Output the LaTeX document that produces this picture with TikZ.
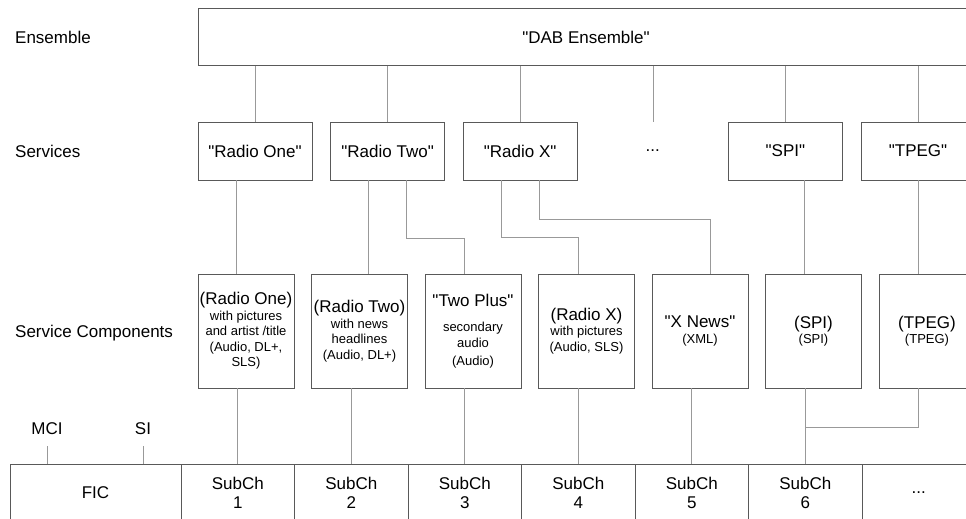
\documentclass[tikz,border=0pt]{standalone}
\usepackage{fontspec}
\setmainfont{Liberation Sans}[Ligatures=TeXOff]
\usepackage{tikz}
\newcommand{\letragrande}{\fontsize{17}{19}\selectfont}
\newcommand{\letrachica}{\fontsize{13}{15.5}\selectfont}
\usetikzlibrary{positioning}
\tikzstyle{caja} = [draw=black!65, line width=1pt, rectangle, inner sep=0pt, outer sep=0pt, align=center, font=\letragrande]
\tikzstyle{conjunto} = [caja, minimum width=776pt, minimum height=57pt]
\tikzstyle{servicio} = [caja, minimum width=114pt, minimum height=58pt]
\tikzstyle{componente} = [caja, minimum width=96pt, minimum height=114pt, font=\letrachica]
\tikzstyle{subcanal} = [caja, minimum width=113.5pt, minimum height=58pt]
\tikzstyle{nivel} = [inner sep=0pt, font=\letragrande]
\tikzstyle{enlace} = [draw=black!40, line width=0.6pt]

\begin{document}
\begin{tikzpicture}[x=1pt, y=-1pt]
	\useasboundingbox (0,0) rectangle (966,519);
	\clip (0,0) rectangle (966,519);
	\node[nivel, anchor=west] (lens) at (15,37.5) {Ensemble};
	\node[nivel, anchor=west] (lsrv) at (15,151) {Services};
	\node[nivel, anchor=west] (lcmp) at (15,333) {Service Components};
	\node[conjunto] (ens) at (586,37.5) {"DAB Ensemble"};
	\node[servicio] (srv1) at (255,151) {"Radio One"};
	\node[servicio, right=18.6pt of srv1] (srv2) {"Radio Two"};
	\node[servicio, right=18.6pt of srv2] (srvx) {"Radio X"};
	\node[servicio, draw=none, right=18.6pt of srvx] (mas) {...};
	\node[servicio, right=18.6pt of mas] (spi) {"SPI"};
	\node[servicio, right=18.6pt of spi] (tpeg) {"TPEG"};
	\node[componente] (c1) at (246,331) {{\letragrande (Radio One)}\\ with pictures\\ and artist /title\\ (Audio, DL+,\\ SLS)};
	\node[componente, right=17.5pt of c1] (c2) {{\letragrande (Radio Two)}\\ with news\\ headlines\\ (Audio, DL+)};
	\node[componente, right=17.5pt of c2] (c3) {{\letragrande "Two Plus"}\\[10pt] secondary\\ audio\\[3pt] (Audio)};
	\node[componente, right=17.5pt of c3] (c4) {{\letragrande (Radio X)}\\ with pictures\\ (Audio, SLS)};
	\node[componente, right=17.5pt of c4] (c5) {{\letragrande "X News"}\\ (XML)};
	\node[componente, right=17.5pt of c5] (c6) {{\letragrande (SPI)}\\ (SPI)};
	\node[componente, right=17.5pt of c6] (c7) {{\letragrande (TPEG)}\\ (TPEG)};
	\node[subcanal, minimum width=171pt] (fic) at (95.5,493) {FIC};
	\node[subcanal, right=0pt of fic] (sub1) {SubCh\\ 1};
	\node[subcanal, right=0pt of sub1] (sub2) {SubCh\\ 2};
	\node[subcanal, right=0pt of sub2] (sub3) {SubCh\\ 3};
	\node[subcanal, right=0pt of sub3] (sub4) {SubCh\\ 4};
	\node[subcanal, right=0pt of sub4] (sub5) {SubCh\\ 5};
	\node[subcanal, right=0pt of sub5] (sub6) {SubCh\\ 6};
	\node[subcanal, right=0pt of sub6] (sub7) {...};
	\node[nivel, anchor=base] (mci) at (47,434) {MCI};
	\node[nivel, anchor=base] (si) at (143,434) {SI};

	\draw[enlace] (ens.south -| srv1.north) -- (srv1.north);
	\draw[enlace] (ens.south -| srv2.north) -- (srv2.north);
	\draw[enlace] (ens.south -| srvx.north) -- (srvx.north);
	\draw[enlace] (ens.south -| mas.north) -- (mas.north);
	\draw[enlace] (ens.south -| spi.north) -- (spi.north);
	\draw[enlace] (ens.south -| tpeg.north) -- (tpeg.north);

	\coordinate (a1) at ([xshift=38pt]srv1.south west);
	\coordinate (a2) at ([xshift=38pt]srv2.south west);
	\coordinate (b2) at ([xshift=76pt]srv2.south west);
	\coordinate (ax) at ([xshift=38pt]srvx.south west);
	\coordinate (bx) at ([xshift=76pt]srvx.south west);
	\coordinate (bs) at ([xshift=76pt]spi.south west);
	\draw[enlace] (a1) -- (a1 |- c1.north);
	\draw[enlace] (a2) -- (a2 |- c2.north);
	\draw[enlace] (b2) -- ++(0,58) -| (sub3.north |- c3.north);
	\draw[enlace] (ax) -- ++(0,57) -| (sub4.north |- c4.north);
	\draw[enlace] (bx) -- ++(0,39) -| ([xshift=10pt]c5.north);
	\draw[enlace] (bs) -- (bs |- c6.north);
	\draw[enlace] (tpeg.south) -- (tpeg.south |- c7.north);

	\draw[enlace] (sub1.north) -- (sub1.north |- c1.south);
	\draw[enlace] (sub2.north) -- (sub2.north |- c2.south);
	\draw[enlace] (sub3.north) -- (sub3.north |- c3.south);
	\draw[enlace] (sub4.north) -- (sub4.north |- c4.south);
	\draw[enlace] (sub5.north) -- (sub5.north |- c5.south);
	\draw[enlace] (sub6.north) -- (sub6.north |- c6.south);
	\draw[enlace] (tpeg.south |- c7.south) -- ++(0,39) -| (sub6.north);

	\draw[enlace] ([yshift=-12pt]mci.south) -- (mci.south |- fic.north);
	\draw[enlace] ([yshift=-12pt]si.south) -- (si.south |- fic.north);
\end{tikzpicture}
\end{document}
